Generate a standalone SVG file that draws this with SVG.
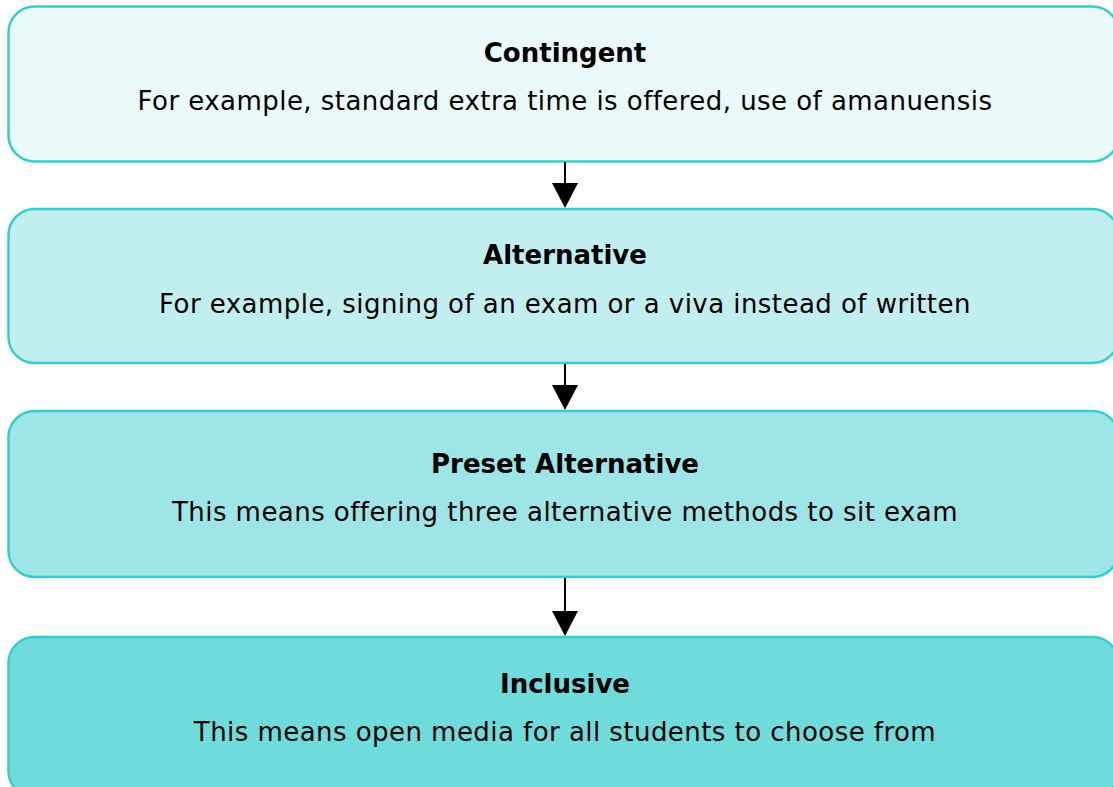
<svg xmlns="http://www.w3.org/2000/svg" width="1113" height="787" viewBox="0 0 1113 787">
<defs>
<style>
.box{stroke:#38cccc;stroke-width:2.5}
.t{font-family:"DejaVu Sans",Verdana,sans-serif;font-size:26px;font-weight:bold;fill:#000;text-anchor:middle}
.b{font-family:"DejaVu Sans",Verdana,sans-serif;font-size:26px;letter-spacing:0.45px;fill:#000;text-anchor:middle}
.ln{stroke:#000;stroke-width:2;fill:none}
.hd{fill:#000}
</style>
</defs>
<rect width="1113" height="787" fill="#ffffff"/>
<g id="node-contingent">
<rect class="box" x="8.5" y="6.5" width="1110" height="155" rx="26" ry="26" fill="#eafafb"/>
<text class="t" x="565" y="62">Contingent</text>
<text class="b" x="565" y="110">For example, standard extra time is offered, use of amanuensis</text>
</g>
<g id="node-alternative">
<rect class="box" x="8.5" y="209" width="1110" height="154" rx="26" ry="26" fill="#c1eeef"/>
<text class="t" x="565" y="264">Alternative</text>
<text class="b" x="565" y="313">For example, signing of an exam or a viva instead of written</text>
</g>
<g id="node-preset">
<rect class="box" x="8.5" y="411" width="1110" height="166" rx="26" ry="26" fill="#9de5e6"/>
<text class="t" x="565" y="473">Preset Alternative</text>
<text class="b" x="565" y="521">This means offering three alternative methods to sit exam</text>
</g>
<g id="node-inclusive">
<rect class="box" x="8.5" y="637" width="1110" height="160" rx="26" ry="26" fill="#6fdbdb"/>
<text class="t" x="565" y="693">Inclusive</text>
<text class="b" x="565" y="741">This means open media for all students to choose from</text>
</g>
<g id="connectors">
<line class="ln" x1="565" y1="162" x2="565" y2="184"/>
<polygon class="hd" points="552,183 578,183 565,208"/>
<line class="ln" x1="565" y1="364" x2="565" y2="386"/>
<polygon class="hd" points="552,385 578,385 565,410"/>
<line class="ln" x1="565" y1="578" x2="565" y2="612"/>
<polygon class="hd" points="552,611 578,611 565,636"/>
</g>
</svg>
